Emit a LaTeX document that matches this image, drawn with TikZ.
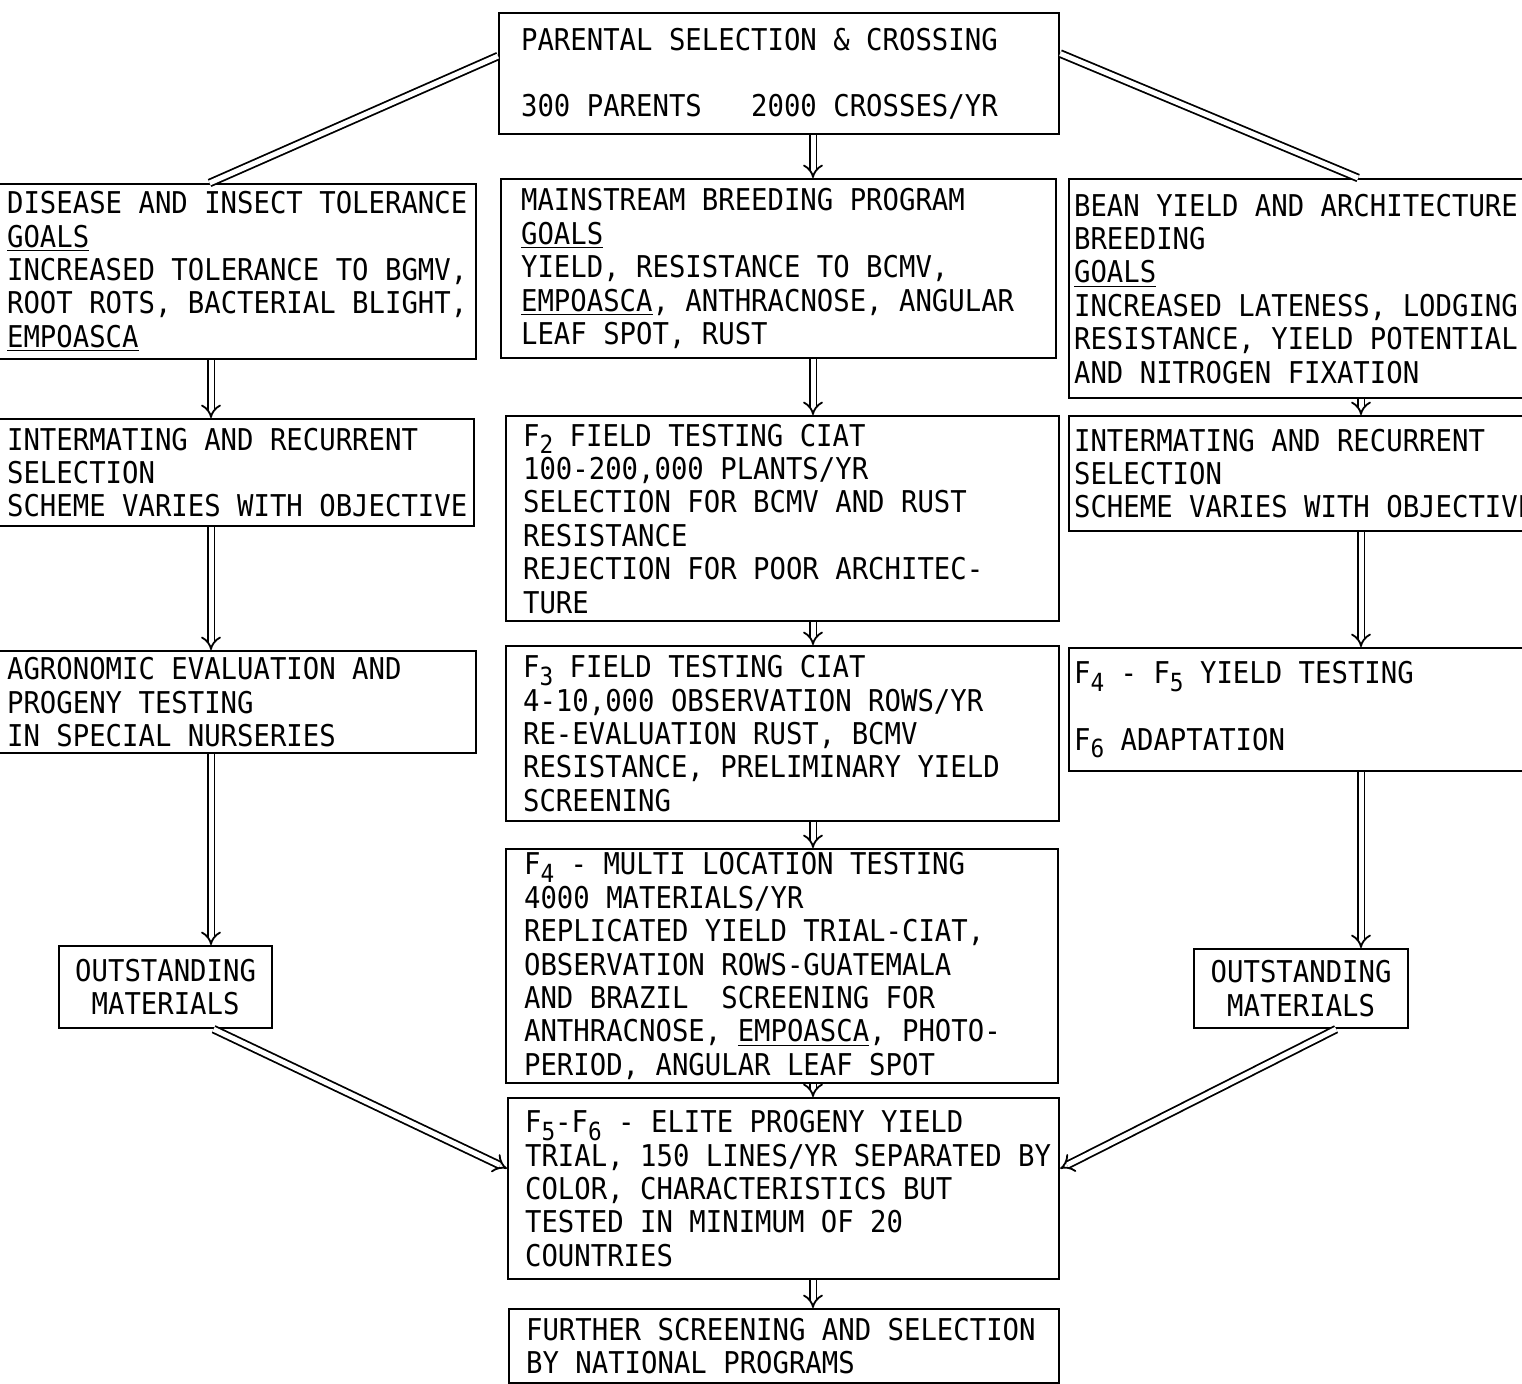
\documentclass[tikz,border=0pt]{standalone}
\usepackage{fontspec}
\usepackage{tikz}
\usetikzlibrary{arrows.meta,positioning,calc}
\newfontfamily\tw[FakeStretch=0.91]{DejaVu Sans Mono}
\newcommand\boxfont{\tw\fontsize{15pt}{16.7pt}\selectfont}
\newcommand\monospace{\spaceskip=\fontcharwd\font`M\relax \xspaceskip=\spaceskip}
\newcommand\fs[1]{\raisebox{-0.45ex}{\fontsize{12.5pt}{12.5pt}\selectfont #1}}
\tikzset{
  box/.style={draw, line width=1.1pt, anchor=north west, inner sep=0pt,
    align=left, font=\boxfont, execute at begin node={\leftskip=#1\monospace}},
  obox/.style={draw, line width=1.1pt, anchor=north west, inner sep=0pt,
    align=center, font=\boxfont, execute at begin node={\monospace}},
  twin/.style={double, double distance=2.5pt, line width=0.9pt},
  dbl/.style={twin, -{Implies}},
}

\begin{document}
\begin{tikzpicture}[x=0.5pt, y=-0.5pt]
    \useasboundingbox (0,0) rectangle (1522,1384);
    \clip (0,0) rectangle (1522,1384);
    % --- top ---
    \node[box=11pt, text width=280pt, minimum height=60.5pt] (parent) at (498,12)
      {PARENTAL SELECTION \& CROSSING\\[16.5pt]
       300 PARENTS\ \ \ 2000 CROSSES/YR};
    % --- left column ---
    \node[box=4pt, text width=238.5pt, minimum height=87.5pt] (disease) at (-2,183)
      {DISEASE AND INSECT TOLERANCE\\
       \underline{GOALS}\\
       INCREASED TOLERANCE TO BGMV,\\
       ROOT ROTS, BACTERIAL BLIGHT,\\
       \underline{EMPOASCA}};
    \node[box=4pt, text width=237.5pt, minimum height=53.5pt] (interL) at (-2,418)
      {INTERMATING AND RECURRENT\\
       SELECTION\\
       SCHEME VARIES WITH OBJECTIVE};
    \node[box=4pt, text width=238.5pt, minimum height=51pt] (agro) at (-2,650)
      {AGRONOMIC EVALUATION AND\\
       PROGENY TESTING\\
       IN SPECIAL NURSERIES};
    \node[obox, text width=106.5pt, minimum height=41pt] (outL) at (58,945)
      {OUTSTANDING\\MATERIALS};
    % --- middle column ---
    \node[box=10pt, text width=277.5pt, minimum height=89.5pt] (main) at (500,178)
      {MAINSTREAM BREEDING PROGRAM\\
       \underline{GOALS}\\
       YIELD, RESISTANCE TO BCMV,\\
       \underline{EMPOASCA}, ANTHRACNOSE, ANGULAR\\
       LEAF SPOT, RUST};
    \node[box=8.5pt, text width=276.5pt, minimum height=102.5pt] (F2) at (505,415)
      {F\fs{2} FIELD TESTING CIAT\\
       100-200,000 PLANTS/YR\\
       SELECTION FOR BCMV AND RUST\\
       RESISTANCE\\
       REJECTION FOR POOR ARCHITEC-\\
       TURE};
    \node[box=8.5pt, text width=276.5pt, minimum height=87.5pt] (F3) at (505,645)
      {F\fs{3} FIELD TESTING CIAT\\
       4-10,000 OBSERVATION ROWS/YR\\
       RE-EVALUATION RUST, BCMV\\
       RESISTANCE, PRELIMINARY YIELD\\
       SCREENING};
    \node[box=9pt, text width=276pt, minimum height=117pt] (F4) at (505,848)
      {F\fs{4} - MULTI LOCATION TESTING\\
       4000 MATERIALS/YR\\
       REPLICATED YIELD TRIAL-CIAT,\\
       OBSERVATION ROWS-GUATEMALA\\
       AND BRAZIL\ \ SCREENING FOR\\
       ANTHRACNOSE, \underline{EMPOASCA}, PHOTO-\\
       PERIOD, ANGULAR LEAF SPOT};
    \node[box=8.5pt, text width=275.5pt, minimum height=90.5pt] (F56) at (507,1097)
      {F\fs{5}-F\fs{6} - ELITE PROGENY YIELD\\
       TRIAL, 150 LINES/YR SEPARATED BY\\
       COLOR, CHARACTERISTICS BUT\\
       TESTED IN MINIMUM OF 20\\
       COUNTRIES};
    \node[box=8.5pt, text width=275pt, minimum height=37pt] (further) at (508,1308)
      {FURTHER SCREENING AND SELECTION\\
       BY NATIONAL PROGRAMS};
    % --- right column ---
    \node[box=2.5pt, text width=262pt, minimum height=109.5pt] (bean) at (1068,178)
      {BEAN YIELD AND ARCHITECTURE\\
       BREEDING\\
       \underline{GOALS}\\
       INCREASED LATENESS, LODGING\\
       RESISTANCE, YIELD POTENTIAL\\
       AND NITROGEN FIXATION};
    \node[box=2.5pt, text width=262pt, minimum height=57.5pt] (interR) at (1068,415)
      {INTERMATING AND RECURRENT\\
       SELECTION\\
       SCHEME VARIES WITH OBJECTIVE};
    \node[box=2.5pt, text width=262pt, minimum height=61.5pt] (F45) at (1068,647)
      {F\fs{4} - F\fs{5} YIELD TESTING\\[16.5pt]
       F\fs{6} ADAPTATION};
    \node[obox, text width=107pt, minimum height=39.5pt] (outR) at (1193,948)
      {OUTSTANDING\\MATERIALS};
    % --- connectors ---
    \coordinate (lcol) at (211,0);
    \coordinate (midcol) at (813,0);
    \coordinate (rcol) at (1361,0);
    \draw[twin] ([yshift=8.75pt]parent.west) -- ([xshift=-14pt]disease.north);
    \draw[twin] ([yshift=10pt]parent.east) -- ([xshift=13.5pt]bean.north);
    \draw[dbl] (parent.south -| midcol) -- (main.north -| midcol);
    \draw[dbl] (main.south -| midcol) -- (F2.north -| midcol);
    \draw[dbl] (F2.south -| midcol) -- (F3.north -| midcol);
    \draw[dbl] (F3.south -| midcol) -- (F4.north -| midcol);
    \draw[dbl] (F4.south -| midcol) -- (F56.north -| midcol);
    \draw[dbl] (F56.south -| midcol) -- (further.north -| midcol);
    \draw[dbl] (disease.south -| lcol) -- (interL.north -| lcol);
    \draw[dbl] (interL.south -| lcol) -- (agro.north -| lcol);
    \draw[dbl] (agro.south -| lcol) -- (outL.north -| lcol);
    \draw[dbl] (bean.south -| rcol) -- (interR.north -| rcol);
    \draw[dbl] (interR.south -| rcol) -- (F45.north -| rcol);
    \draw[dbl] (F45.south -| rcol) -- (outR.north -| rcol);
    \draw[dbl] ([xshift=24pt]outL.south) -- ([yshift=10pt]F56.west);
    \draw[dbl] ([xshift=17.5pt]outR.south) -- ([yshift=10pt]F56.east);
\end{tikzpicture}
\end{document}
